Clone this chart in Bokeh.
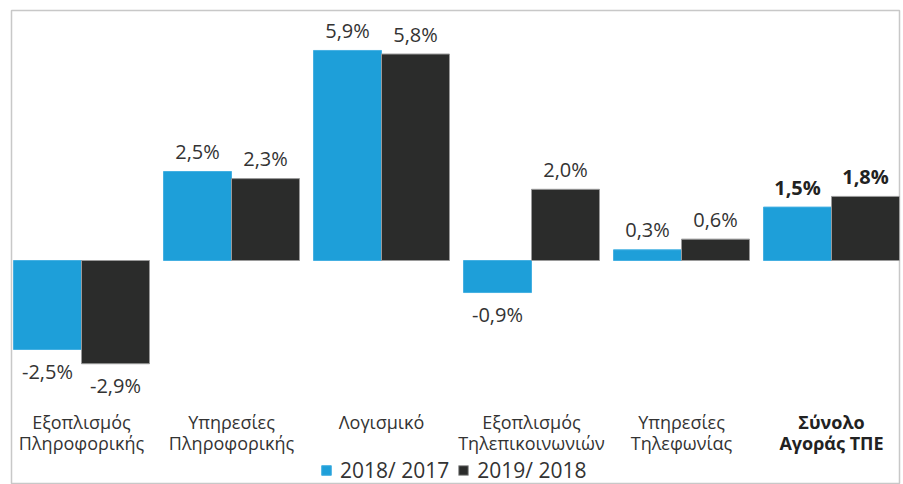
from bokeh.plotting import figure
from bokeh.models import Range1d, Legend, LegendItem
from bokeh.core.properties import value
from bokeh.embed import file_html
from bokeh.resources import INLINE

# ---- data ----
categories = [
    "Εξοπλισμός\nΠληροφορικής",
    "Υπηρεσίες\nΠληροφορικής",
    "Λογισμικό",
    "Εξοπλισμός\nΤηλεπικοινωνιών",
    "Υπηρεσίες\nΤηλεφωνίας",
    "Σύνολο\nΑγοράς ΤΠΕ",
]
series_names = ["2018/ 2017", "2019/ 2018"]
growth_2018_2017 = [-2.5, 2.5, 5.9, -0.9, 0.3, 1.5]
growth_2019_2018 = [-2.9, 2.3, 5.8, 2.0, 0.6, 1.8]

# ---- styling ----
BLUE = "#1e9fd9"
DARK = "#2b2c2b"
TEXT = "#333333"
FONT = "Open Sans"
BAR_W = 0.4533

W, H = 903, 484
ML, MR, MT, MB = 11, 4, 10, 0
FW, FH = W - ML - MR, H - MT - MB
SCALE_X = 150.0            # px per category
X0 = -70 / SCALE_X
Y_PX = 35.6                # px per percentage point
ZERO_PX = 250              # px from top of frame to zero line

x_start = X0
x_end = X0 + FW / SCALE_X
y_end = ZERO_PX / Y_PX
y_start = -(FH - ZERO_PX) / Y_PX

p = figure(width=W, height=H, output_backend="svg", toolbar_location=None,
           x_range=Range1d(x_start, x_end), y_range=Range1d(y_start, y_end),
           x_axis_location=None, y_axis_location=None,
           min_border=0, min_border_left=ML, min_border_right=MR,
           min_border_top=MT, min_border_bottom=MB)
p.grid.grid_line_color = None
p.outline_line_color = "#c8c8c8"
p.outline_line_width = 1.5
p.background_fill_color = "white"
p.border_fill_color = "white"

idx = list(range(len(categories)))
xa = [i - BAR_W / 2 for i in idx]
xb = [i + BAR_W / 2 for i in idx]

ra = p.vbar(x=xa, top=growth_2018_2017, bottom=0, width=BAR_W,
            fill_color=BLUE, line_color="#45b0e2", line_width=1)
rb = p.vbar(x=xb, top=growth_2019_2018, bottom=0, width=BAR_W,
            fill_color=DARK, line_color="#9a9a9a", line_width=1)


def fmt(v):
    return f"{v:.1f}".replace(".", ",") + "%"


def value_labels(xs, vals, bold_last):
    n = len(vals)
    for i in range(n):
        v = vals[i]
        style = "bold" if (bold_last and i == n - 1) else "normal"
        p.text(x=[xs[i]], y=[v], text=[fmt(v)],
               text_font=value(FONT), text_font_size="20px",
               text_font_style=style,
               text_color="#222222" if style == "bold" else TEXT,
               text_align="center", text_baseline="alphabetic",
               y_offset=-20 if v >= 0 else 22)


value_labels(xa, growth_2018_2017, True)
value_labels(xb, growth_2019_2018, True)

# category labels
p.text(x=idx[:-1], y=0, text=categories[:-1],
       text_font=value(FONT), text_font_size="18px", text_color=TEXT,
       text_align="center", text_baseline="top", text_line_height=0.88,
       y_offset=149)
p.text(x=idx[-1:], y=0, text=categories[-1:],
       text_font=value(FONT), text_font_size="18px", text_color="#222222",
       text_font_style="bold",
       text_align="center", text_baseline="top", text_line_height=0.88,
       y_offset=149)

legend = Legend(items=[LegendItem(label=series_names[0], renderers=[ra]),
                       LegendItem(label=series_names[1], renderers=[rb])],
                orientation="horizontal", location=(309, 0),
                glyph_width=12, glyph_height=12, label_standoff=8, spacing=8,
                padding=0, margin=0, border_line_color=None,
                background_fill_alpha=0,
                label_text_font=FONT, label_text_font_size="21px",
                label_text_color=TEXT)
p.add_layout(legend)

open("out.html", "w").write(file_html(p, INLINE))
